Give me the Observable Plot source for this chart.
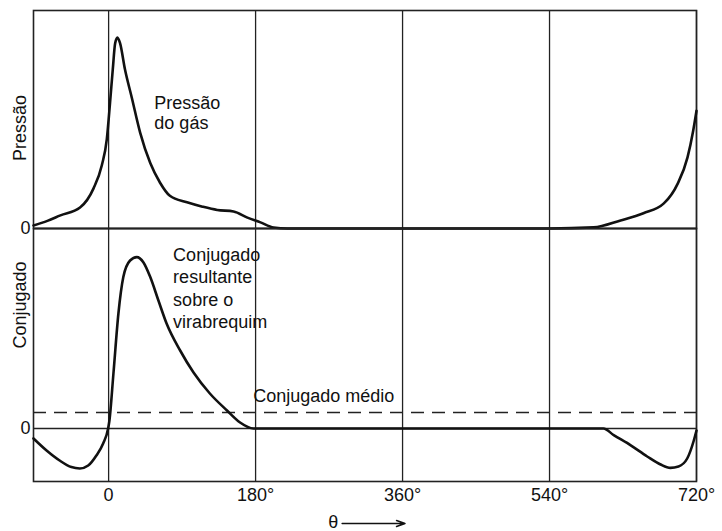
<!DOCTYPE html>
<html>
<head>
<meta charset="utf-8">
<script src="https://cdn.jsdelivr.net/npm/d3@7"></script>
<script src="https://cdn.jsdelivr.net/npm/@observablehq/plot@0.6"></script>
<style>
  html, body { margin: 0; padding: 0; background: #fff; }
  #wrap { position: relative; width: 722px; height: 531px; font-family: "Liberation Sans", Arial, sans-serif; }
  #wrap svg { position: absolute; left: 0; overflow: visible; }
</style>
</head>
<body>
<div id="wrap"></div>
<script>
// Crank angle (degrees) and gas pressure (arbitrary units)
const thetaP   = [-92, -75, -59, -35, -18.6, -8.3, -2.2, 1.8, 5.1, 8, 10.8, 14, 20, 28.4, 38.6, 51, 63, 75, 96, 115, 133, 153, 170, 186, 202, 219, 300, 360, 450, 540, 594, 627, 655, 680, 697, 709, 716, 720];
const pressure = [1.4, 3.5, 6, 9.6, 18.3, 29, 41, 58, 73, 85, 87.6, 85, 73, 60, 44, 30, 21, 15, 12, 10, 8.5, 7.8, 5, 2.8, 0.5, 0, 0, 0, 0, 0, 0.5, 3.7, 7, 11.5, 20.6, 32.6, 45, 54];

// Crank angle (degrees) and resulting crankshaft torque (arbitrary units)
const thetaT = [-92, -76, -60, -45.6, -35.3, -25, -15, -6.7, -0.6, 1, 5.9, 12, 18, 26.3, 34.5, 42.7, 51, 61, 71, 87.6, 104, 124, 145, 161, 177.5, 270, 360, 450, 540, 606, 618.6, 639, 659.6, 676, 688, 698, 708.6, 716.7, 720];
const torque = [-5, -11, -16, -19.3, -20, -18.5, -13.5, -7.5, 0, 4, 27.5, 57.5, 75.7, 84, 85.7, 83, 75.7, 64, 52.5, 39, 28, 17.5, 9, 3, 0, 0, 0, 0, 0, 0, -3.3, -8.3, -14, -18, -19.7, -19, -15, -6, -1];

const meanTorque = 8;

const xTicks = [0, 180, 360, 540, 720];
const xTickLabels = ["0", "180°", "360°", "540°", "720°"];

const pData = thetaP.map((t, i) => ({theta: t, p: pressure[i]}));
const tData = thetaT.map((t, i) => ({theta: t, c: torque[i]}));

const font = "Liberation Sans, Arial, sans-serif";
const ink = "#111";
const fs = 18;

const xDomain = [-92, 720];

const topPlot = Plot.plot({
  width: 722, height: 229,
  marginLeft: 33, marginRight: 26, marginTop: 10, marginBottom: 1,
  x: {domain: xDomain, axis: null},
  y: {domain: [0, 100], axis: null},
  style: {fontFamily: font, fontSize: fs + "px", color: ink, background: "transparent"},
  marks: [
    Plot.ruleX(xTicks, {stroke: "#222", strokeWidth: 1.3}),
    Plot.ruleY([0], {stroke: "#222", strokeWidth: 1.5}),
    Plot.frame({stroke: "#222", strokeWidth: 1.6}),
    Plot.line(pData, {x: "theta", y: "p", curve: "monotone-x", stroke: ink, strokeWidth: 2.6}),
    Plot.text(["Pressão", "do gás"], {x: 56, y: [57.3, 48.2], text: d => d, textAnchor: "start", fontSize: fs, fill: ink}),
    Plot.text(["Pressão"], {frameAnchor: "left", y: 31, dx: -13, rotate: -90, text: d => d, fontSize: fs, fill: ink}),
    Plot.text(["0"], {frameAnchor: "left", y: 0, dx: -13, text: d => d, fontSize: fs, fill: ink})
  ]
});
topPlot.style.top = "0px";

const bottomPlot = Plot.plot({
  width: 722, height: 303,
  marginLeft: 33, marginRight: 26, marginTop: 0, marginBottom: 50,
  x: {domain: xDomain},
  y: {domain: [-26.5, 100], axis: null},
  style: {fontFamily: font, fontSize: fs + "px", color: ink, background: "transparent"},
  marks: [
    Plot.ruleX(xTicks, {stroke: "#222", strokeWidth: 1.3}),
    Plot.ruleY([0], {stroke: "#222", strokeWidth: 1.3}),
    Plot.ruleY([meanTorque], {stroke: "#222", strokeWidth: 1.5, strokeDasharray: "13,8"}),
    Plot.frame({stroke: "#222", strokeWidth: 1.6}),
    Plot.line(tData, {x: "theta", y: "c", curve: "monotone-x", stroke: ink, strokeWidth: 2.6}),
    Plot.text(["Conjugado", "resultante", "sobre o", "virabrequim"], {x: 79, y: [86.5, 75.5, 64, 53], text: d => d, textAnchor: "start", fontSize: fs, fill: ink}),
    Plot.text(["Conjugado médio"], {x: 177, y: 16, text: d => d, textAnchor: "start", fontSize: fs, fill: ink}),
    Plot.text(["Conjugado"], {frameAnchor: "left", y: 40, dx: -13, rotate: -90, text: d => d, fontSize: fs, fill: ink}),
    Plot.text(["0"], {frameAnchor: "left", y: 0, dx: -13, text: d => d, fontSize: fs, fill: ink}),
    Plot.axisX({ticks: xTicks, tickFormat: d => xTickLabels[xTicks.indexOf(d)], tickSize: 0, tickPadding: 7, fontSize: fs, label: null, fill: ink}),
    Plot.text(["θ"], {x: 275, y: -47, text: d => d, fontSize: fs, fill: ink}),
    Plot.arrow([{x1: 286, x2: 363}], {x1: "x1", x2: "x2", y1: -47.5, y2: -47.5, stroke: ink, strokeWidth: 1.5, headLength: 9, headAngle: 40})
  ]
});
bottomPlot.style.top = "228px";

const wrap = document.getElementById("wrap");
wrap.appendChild(topPlot);
wrap.appendChild(bottomPlot);
</script>
</body>
</html>
